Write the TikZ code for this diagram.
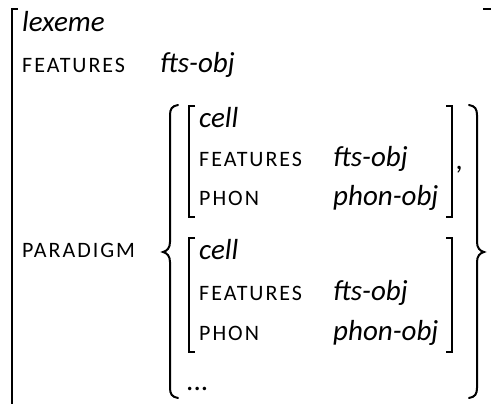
\documentclass[tikz,border=0pt]{standalone}
\usepackage{fontspec}
\setmainfont{Carlito}
\newfontfamily\scfont[LetterSpace=9]{Carlito}
\tikzset{
  it/.style={anchor=base west, inner sep=0pt, font=\fontsize{29}{34}\selectfont\itshape},
  sc/.style={anchor=base west, inner sep=0pt, font=\fontsize{22}{26}\scfont},
  brk/.style={line width=1.3pt},
  brace/.style={line width=2pt, line cap=round}
}
\begin{document}
\begin{tikzpicture}[x=1pt,y=-1pt]
\useasboundingbox (0,0) rectangle (491,404);
% outer matrix
\draw[brk] (18,9) -- (12,9) -- (12,406);
\draw[brk] (483,9) -- (491,9);
\node[it] (lex) at (22,32) {lexeme};
\node[sc] (f0) at (22,73) {FEATURES};
\node[it] (v0) at (160,73) {fts-obj};
\node[sc] (par) at (22,258) {PARADIGM};
% braces
\draw[brace] (178,105) .. controls (172,106) and (170,109) .. (170,115) -- (170,242) .. controls (170,248) and (167,251) .. (163,252) .. controls (167,253) and (170,256) .. (170,262) -- (170,388) .. controls (170,394) and (172,397) .. (178,398);
\draw[brace] (469,105) .. controls (475,106) and (477,109) .. (477,115) -- (477,242) .. controls (477,248) and (480,251) .. (484,252) .. controls (480,253) and (477,256) .. (477,262) -- (477,388) .. controls (477,394) and (475,397) .. (469,398);
% first cell
\draw[brk] (195,106) -- (189,106) -- (189,217) -- (195,217);
\draw[brk] (446,106) -- (452,106) -- (452,217) -- (446,217);
\node[it] (c1) at (199,128) {cell};
\node[sc] (f1) at (199,167) {FEATURES};
\node[it] (v1) at (333,167) {fts-obj};
\node[sc] (p1) at (199,205) {PHON};
\node[it] (w1) at (333,205) {phon-obj};
\node[it] (comma) at (456,170) {,};
% second cell
\draw[brk] (195,238) -- (189,238) -- (189,352) -- (195,352);
\draw[brk] (446,238) -- (452,238) -- (452,352) -- (446,352);
\node[it] (c2) at (199,259) {cell};
\node[sc] (f2) at (199,300) {FEATURES};
\node[it] (v2) at (333,300) {fts-obj};
\node[sc] (p2) at (199,341) {PHON};
\node[it] (w2) at (333,341) {phon-obj};
\node[it] (dots) at (186,390) {\upshape...};
\end{tikzpicture}
\end{document}
